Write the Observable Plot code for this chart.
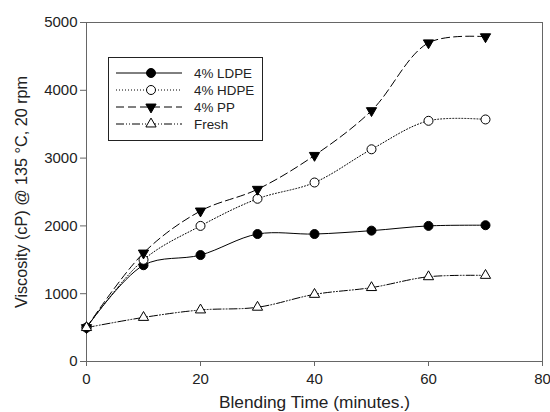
<!DOCTYPE html>
<html>
<head>
<meta charset="utf-8">
<script src="https://cdn.jsdelivr.net/npm/d3@7"></script>
<script src="https://cdn.jsdelivr.net/npm/@observablehq/plot@0.6"></script>
<style>
  body { margin: 0; background: #fff; }
  #chart { position: relative; width: 550px; height: 412px; overflow: hidden;
           font-family: "Liberation Sans", Arial, sans-serif; }
  #legend { position: absolute; left: 108px; top: 57px; }
</style>
</head>
<body>
<div id="chart"></div>
<script>
// Blending time (minutes) at which viscosity was measured
const times = [0, 10, 20, 30, 40, 50, 60, 70];

// Viscosity (cP) at 135 °C, 20 rpm, per blend
const seriesNames = ["4% LDPE", "4% HDPE", "4% PP", "Fresh"];
const ldpe  = [500, 1420, 1570, 1880, 1880, 1930, 2000, 2010];
const hdpe  = [500, 1500, 2000, 2400, 2640, 3130, 3550, 3570];
const pp    = [500, 1600, 2220, 2540, 3040, 3700, 4700, 4790];
const fresh = [500,  650,  760,  800,  990, 1090, 1250, 1270];

// Axis ticks and titles
const xTicks = [0, 20, 40, 60, 80];
const yTicks = [0, 1000, 2000, 3000, 4000, 5000];
const xTitle = "Blending Time (minutes.)";
const yTitle = "Viscosity (cP) @ 135 °C, 20 rpm";

// Downward-pointing triangle symbol (d3 symbol interface)
const triangleDown = {
  draw(context, size) {
    const y = -Math.sqrt(size / (3 * Math.sqrt(3)));
    context.moveTo(0, -y * 2);
    context.lineTo(-Math.sqrt(3) * y, y);
    context.lineTo(Math.sqrt(3) * y, y);
    context.closePath();
  }
};

const styles = [
  {name: seriesNames[0], values: ldpe,  dash: null,          symbol: "circle",     fill: "black", r: 4.5},
  {name: seriesNames[1], values: hdpe,  dash: "1,2",         symbol: "circle",     fill: "white", r: 4.5},
  {name: seriesNames[2], values: pp,    dash: "8,4",         symbol: triangleDown, fill: "black", r: 3.8},
  {name: seriesNames[3], values: fresh, dash: "8,2,1,2,1,2", symbol: "triangle",   fill: "white", r: 3.8}
];

const rows = styles.flatMap(s => times.map((t, i) => ({series: s.name, time: t, value: s.values[i]})));

const axisColor = "#666";

const chart = Plot.plot({
  width: 550,
  height: 412,
  marginLeft: 86,
  marginRight: 8,
  marginTop: 22,
  marginBottom: 51,
  style: {fontFamily: "Liberation Sans, Arial, sans-serif", fontSize: "15px", color: "#222", background: "white"},
  x: {domain: [0, 80]},
  y: {domain: [0, 5000]},
  marks: [
    Plot.frame({stroke: axisColor}),
    Plot.axisX({ticks: xTicks, tickSize: 5, tickPadding: 7, label: null, stroke: axisColor, fontSize: 15}),
    Plot.axisY({ticks: yTicks, tickSize: 6, tickPadding: 3, label: null, stroke: axisColor, fontSize: 15,
                tickFormat: d3.format("d")}),
    ...styles.map(s => Plot.line(rows.filter(d => d.series === s.name), {
      x: "time", y: "value", curve: "catmull-rom",
      stroke: "black", strokeWidth: 1, strokeDasharray: s.dash
    })),
    ...styles.map(s => Plot.dot(rows.filter(d => d.series === s.name), {
      x: "time", y: "value", symbol: s.symbol, r: s.r,
      fill: s.fill, stroke: "black", strokeWidth: 1
    })),
    Plot.text([xTitle], {frameAnchor: "bottom", textAnchor: "middle", dy: 46, fontSize: 17.3, fill: "#222"}),
    Plot.text([yTitle], {frameAnchor: "left", textAnchor: "middle", dx: -65, dy: 0, rotate: -90, fontSize: 16.2, fill: "#222"})
  ]
});

const container = document.getElementById("chart");
container.appendChild(chart);

// Legend box drawn over the plot area
const lw = 155, lh = 84, rowY0 = 16, rowStep = 17;
const legend = d3.select(container).append("svg")
  .attr("id", "legend").attr("width", lw).attr("height", lh);
legend.append("rect").attr("x", 0.5).attr("y", 0.5).attr("width", lw - 1).attr("height", lh - 1)
  .attr("fill", "white").attr("stroke", "#222");
styles.forEach((s, i) => {
  const g = legend.append("g").attr("transform", `translate(0,${rowY0 + i * rowStep})`);
  g.append("line").attr("x1", 8).attr("x2", 74).attr("y1", 0).attr("y2", 0)
    .attr("stroke", "black").attr("stroke-width", 1)
    .attr("stroke-dasharray", s.dash);
  const sym = typeof s.symbol === "string"
    ? (s.symbol === "circle" ? d3.symbolCircle : d3.symbolTriangle)
    : s.symbol;
  g.append("path").attr("transform", "translate(43,0)")
    .attr("d", d3.symbol(sym, Math.PI * s.r * s.r)())
    .attr("fill", s.fill).attr("stroke", "black");
  g.append("text").attr("x", 86).attr("y", 0).attr("dy", "0.35em")
    .attr("font-size", 13.4).attr("fill", "#222").text(s.name);
});
</script>
</body>
</html>
